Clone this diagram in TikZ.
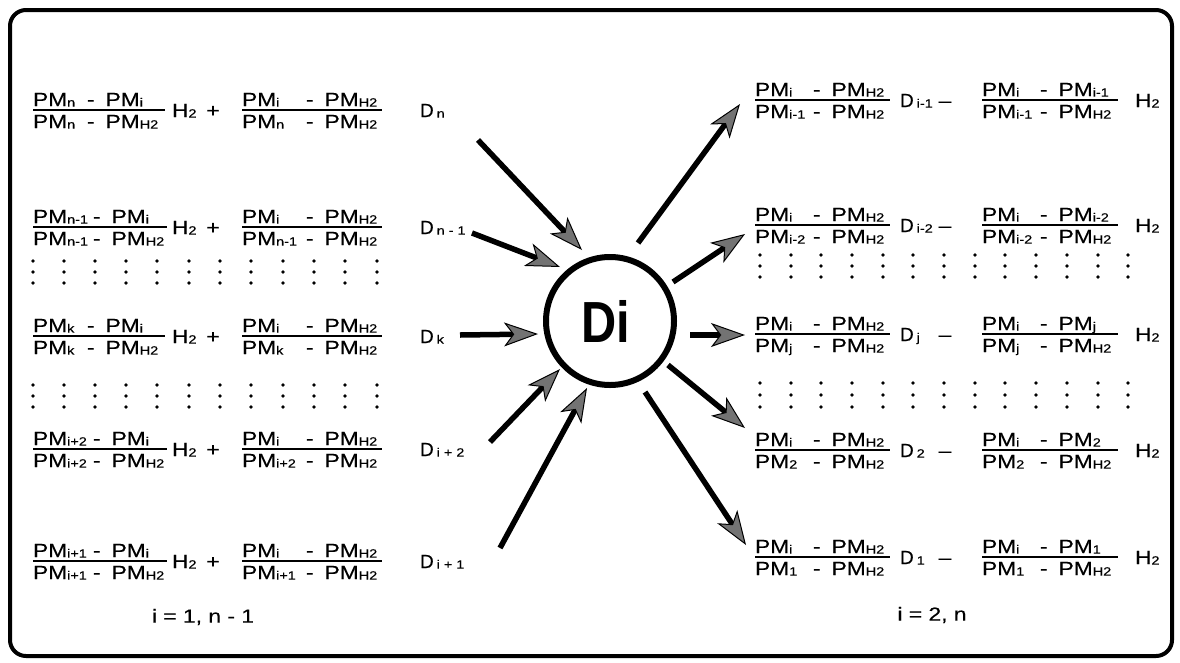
\documentclass[tikz,border=0pt]{standalone}
\usepackage{fontspec}
\setmainfont{Liberation Sans}[FakeStretch=1.2,FakeBold=0.4]
\newfontfamily\dfont{Liberation Sans}[FakeStretch=1.0,FakeBold=0.4]
\newfontfamily\difont{Liberation Sans}[FakeStretch=0.84]
\usetikzlibrary{arrows.meta}
\newcommand{\sbx}[1]{\raisebox{-0.6pt}{\fontsize{12}{12}\selectfont #1}}
\newcommand{\ex}[3]{\makebox[#1][l]{PM\sbx{#2}}-\hspace{11pt}PM\sbx{#3}}
\newcommand{\Hz}{H\sbx{2}}
\newcommand{\Dl}[1]{{\dfont D}\hspace{3pt}\sbx{#1}}
\newcommand{\frc}[6]{%
  \node[txt,anchor=base west] (#1n) at (#2,#3-4) {#5};
  \node[txt,anchor=base west] (#1d) at (#2,#3+18) {#6};
  \draw[bar] (#2,#3) -- ++(#4,0);}
\tikzset{
  txt/.style={inner sep=0pt, outer sep=0pt, font=\fontsize{19}{19}\selectfont},
  bar/.style={line width=1.8pt},
  flow/.style={line width=5.5pt, -{Stealth[length=34pt,width=24pt,inset=9pt,line width=1pt,fill=black!55]}},
  ring/.style={draw, circle, line width=6pt, minimum size=128pt, inner sep=0pt},
}
\begin{document}
\begin{tikzpicture}[x=1pt,y=-1pt]
\useasboundingbox (0,0) rectangle (1180,662);
\draw[line width=4pt, rounded corners=16pt] (10,10) rectangle (1172,656);

% ---------- left column ----------
\frc{La}{33}{110}{132}{\ex{54pt}{n}{i}}{\ex{54pt}{n}{H2}}
\node[txt,anchor=base west] (LaH) at (172,117) {\Hz};
\node[txt,anchor=base] (Lap) at (213,117) {+};
\frc{Lb}{242}{110}{140}{\ex{64pt}{i}{H2}}{\ex{64pt}{n}{H2}}
\node[txt,anchor=base west] (LD1) at (420,117) {\Dl{n}};

\frc{Lc}{33}{227}{134}{\ex{60pt}{n-1}{i}}{\ex{60pt}{n-1}{H2}}
\node[txt,anchor=base west] (LcH) at (172,234) {\Hz};
\node[txt,anchor=base] (Lcp) at (213,234) {+};
\frc{Ld}{242}{227}{140}{\ex{64pt}{i}{H2}}{\ex{64pt}{n-1}{H2}}
\node[txt,anchor=base west] (LD2) at (420,234) {\Dl{n - 1}};

\frc{Le}{33}{336}{132}{\ex{54pt}{k}{i}}{\ex{54pt}{k}{H2}}
\node[txt,anchor=base west] (LeH) at (172,343) {\Hz};
\node[txt,anchor=base] (Lep) at (213,343) {+};
\frc{Lf}{242}{336}{140}{\ex{64pt}{i}{H2}}{\ex{64pt}{k}{H2}}
\node[txt,anchor=base west] (LD3) at (420,343) {\Dl{k}};

\frc{Lg}{33}{449}{134}{\ex{60pt}{i+2}{i}}{\ex{60pt}{i+2}{H2}}
\node[txt,anchor=base west] (LgH) at (172,456) {\Hz};
\node[txt,anchor=base] (Lgp) at (213,456) {+};
\frc{Lh}{242}{449}{140}{\ex{64pt}{i}{H2}}{\ex{64pt}{i+2}{H2}}
\node[txt,anchor=base west] (LD4) at (420,456) {\Dl{i + 2}};

\frc{Li}{33}{561}{134}{\ex{60pt}{i+1}{i}}{\ex{60pt}{i+1}{H2}}
\node[txt,anchor=base west] (LiH) at (172,568) {\Hz};
\node[txt,anchor=base] (Lip) at (213,568) {+};
\frc{Lj}{242}{561}{140}{\ex{64pt}{i}{H2}}{\ex{64pt}{i+1}{H2}}
\node[txt,anchor=base west] (LD5) at (420,568) {\Dl{i + 1}};

\node[txt] (Lrange) at (203,617) {i = 1, n - 1};

\foreach \x in {33,64,95,126,157,189,220,251,283,314,345,377}{
  \foreach \y in {261,272,283,385,396,407}{\fill (\x,\y) circle (1.8pt);}}

% ---------- right column ----------
\frc{Ra}{755}{100}{135}{\ex{58pt}{i}{H2}}{\ex{58pt}{i-1}{H2}}
\node[txt,anchor=base west] (RD1) at (900,107) {\Dl{i-1}};
\node[txt,anchor=base] (Rm1) at (945,107) {\textendash};
\frc{Rb}{982}{100}{136}{\ex{58pt}{i}{i-1}}{\ex{58pt}{i-1}{H2}}
\node[txt,anchor=base west] (RH1) at (1135,107) {\Hz};

\frc{Rc}{755}{225}{135}{\ex{58pt}{i}{H2}}{\ex{58pt}{i-2}{H2}}
\node[txt,anchor=base west] (RD2) at (900,232) {\Dl{i-2}};
\node[txt,anchor=base] (Rm2) at (945,232) {\textendash};
\frc{Rd}{982}{225}{136}{\ex{58pt}{i}{i-2}}{\ex{58pt}{i-2}{H2}}
\node[txt,anchor=base west] (RH2) at (1135,232) {\Hz};

\frc{Re}{755}{334}{135}{\ex{58pt}{i}{H2}}{\ex{58pt}{j}{H2}}
\node[txt,anchor=base west] (RD3) at (900,341) {\Dl{j}};
\node[txt,anchor=base] (Rm3) at (945,341) {\textendash};
\frc{Rf}{982}{334}{136}{\ex{58pt}{i}{j}}{\ex{58pt}{j}{H2}}
\node[txt,anchor=base west] (RH3) at (1135,341) {\Hz};

\frc{Rg}{755}{450}{135}{\ex{58pt}{i}{H2}}{\ex{58pt}{2}{H2}}
\node[txt,anchor=base west] (RD4) at (900,457) {\Dl{2}};
\node[txt,anchor=base] (Rm4) at (945,457) {\textendash};
\frc{Rh}{982}{450}{136}{\ex{58pt}{i}{2}}{\ex{58pt}{2}{H2}}
\node[txt,anchor=base west] (RH4) at (1135,457) {\Hz};

\frc{Ri}{755}{557}{135}{\ex{58pt}{i}{H2}}{\ex{58pt}{1}{H2}}
\node[txt,anchor=base west] (RD5) at (900,564) {\Dl{1}};
\node[txt,anchor=base] (Rm5) at (945,564) {\textendash};
\frc{Rj}{982}{557}{136}{\ex{58pt}{i}{1}}{\ex{58pt}{1}{H2}}
\node[txt,anchor=base west] (RH5) at (1135,564) {\Hz};

\node[txt] (Rrange) at (932,615) {i = 2, n};

\foreach \x in {760,791,821,852,883,913,944,975,1005,1036,1067,1098,1128}{
  \foreach \y in {255,266,277,383,395,407}{\fill (\x,\y) circle (1.8pt);}}

% ---------- centre ----------
\node[ring] (di) at (610,321) {};
\node[inner sep=0pt, font={\difont\bfseries\fontsize{58}{58}\selectfont}] (dit) at (606,321) {Di};

\coordinate (tDn) at (478,140);  \coordinate (hDn) at (582,250);
\coordinate (tDa) at (472,233);  \coordinate (hDa) at (560,267);
\coordinate (tDk) at (460,335);  \coordinate (hDk) at (538,334);
\coordinate (tDb) at (490,442);  \coordinate (hDb) at (560,369);
\coordinate (tDc) at (500,548);  \coordinate (hDc) at (587,388);
\coordinate (tO1) at (638,243);  \coordinate (hO1) at (740,104);
\coordinate (tO2) at (673,282);  \coordinate (hO2) at (745,234);
\coordinate (tO3) at (690,335);  \coordinate (hO3) at (745,335);
\coordinate (tO4) at (668,365);  \coordinate (hO4) at (745,428);
\coordinate (tO5) at (645,392);  \coordinate (hO5) at (746,545);
\foreach \a in {Dn,Da,Dk,Db,Dc,O1,O2,O3,O4,O5}{\draw[flow] (t\a) -- (h\a);}
\end{tikzpicture}
\end{document}
